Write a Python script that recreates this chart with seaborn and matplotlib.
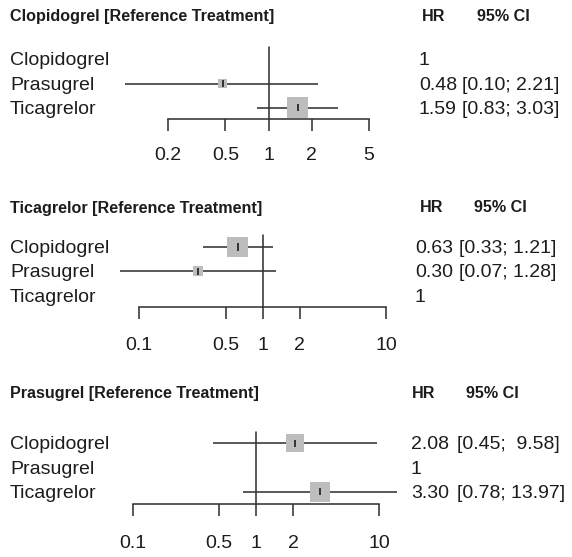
import numpy as np
import pandas as pd
import matplotlib
matplotlib.use("Agg")
import matplotlib.pyplot as plt
import seaborn as sns

# ---------------- data ----------------
treatments = ["Clopidogrel", "Prasugrel", "Ticagrelor"]
reference_names = ["Clopidogrel", "Ticagrelor", "Prasugrel"]

hr_vs_clop = [1.00, 0.48, 1.59]
lo_vs_clop = [np.nan, 0.10, 0.83]
hi_vs_clop = [np.nan, 2.21, 3.03]
wt_vs_clop = [np.nan, 0.18, 1.00]

hr_vs_tica = [0.63, 0.30, 1.00]
lo_vs_tica = [0.33, 0.07, np.nan]
hi_vs_tica = [1.21, 1.28, np.nan]
wt_vs_tica = [1.00, 0.23, np.nan]

hr_vs_pras = [2.08, 1.00, 3.30]
lo_vs_pras = [0.45, np.nan, 0.78]
hi_vs_pras = [9.58, np.nan, 13.97]
wt_vs_pras = [0.73, np.nan, 0.91]

ticks_clop = [0.2, 0.5, 1, 2, 5]
ticks_tica = [0.1, 0.5, 1, 2, 10]
ticks_pras = [0.1, 0.5, 1, 2, 10]
tick_labels_clop = ["0.2", "0.5", "1", "2", "5"]
tick_labels_tica = ["0.1", "0.5", "1", "2", "10"]
tick_labels_pras = ["0.1", "0.5", "1", "2", "10"]

panels_data = [
    (reference_names[0], hr_vs_clop, lo_vs_clop, hi_vs_clop, wt_vs_clop, ticks_clop, tick_labels_clop),
    (reference_names[1], hr_vs_tica, lo_vs_tica, hi_vs_tica, wt_vs_tica, ticks_tica, tick_labels_tica),
    (reference_names[2], hr_vs_pras, lo_vs_pras, hi_vs_pras, wt_vs_pras, ticks_pras, tick_labels_pras),
]

# ---------------- layout (pixels) ----------------
W, H = 572, 557
layouts = [
    dict(xl=168.3, xr=369.0, rows=(59.5, 83.5, 107.5), axis=119.0, top=46.7,
         title_y=17.0, hr_x=419, ci_x=462, hdr_hr=422, hdr_ci=477, tl_y=156),
    dict(xl=139.3, xr=386.0, rows=(247.0, 271.3, 295.5), axis=307.0, top=234.7,
         title_y=208.5, hr_x=415, ci_x=459, hdr_hr=420, hdr_ci=474, tl_y=346),
    dict(xl=132.7, xr=379.3, rows=(443.3, 467.5, 491.7), axis=504.0, top=431.7,
         title_y=393.5, hr_x=411, ci_x=457, hdr_hr=412, hdr_ci=466, tl_y=543),
]

sns.set_theme(style="white")
plt.rcParams["font.family"] = ["Liberation Sans", "DejaVu Sans"]

TXT = "#1c1c1c"
LINE = "#333333"
BOX = "#bdbdbd"
PX2PT = 72.0 / 100.0
TICKLEN_PX = 11.7
MAX_BOX_PX = 21.0

fig = plt.figure(figsize=(W / 100, H / 100), dpi=100)
fig.patch.set_facecolor("white")


def fx(px):
    return px / W


def fy(py):
    return 1 - py / H


for (ref, hr, lo, hi, wt, ticks, tlabels), L in zip(panels_data, layouts):
    rows = L["rows"]
    sp = (rows[2] - rows[0]) / 2.0
    ax = fig.add_axes([fx(L["xl"]), fy(L["axis"]), (L["xr"] - L["xl"]) / W,
                       (L["axis"] - L["top"]) / H])
    ax.set_facecolor("none")
    ax.set_xscale("log")
    ax.set_xlim(ticks[0], ticks[-1])
    ax.set_ylim((L["axis"] - rows[0]) / sp, (L["top"] - rows[0]) / sp)

    df = pd.DataFrame({"treat": treatments, "hr": hr, "lo": lo, "hi": hi, "wt": wt,
                       "row": np.arange(len(treatments), dtype=float)})
    est = df.dropna(subset=["lo"]).copy()
    # box area proportional to weight
    est["area"] = ((MAX_BOX_PX * np.sqrt(est["wt"])) * PX2PT) ** 2
    est["area"] = est["area"].round(3)

    # reference line at HR = 1
    ax.axvline(1, 0, 1, color=LINE, lw=1.15, zorder=1, clip_on=False)

    # confidence intervals
    ax.hlines(est["row"], est["lo"], est["hi"], color=LINE, lw=1.15, zorder=2, clip_on=False)

    # boxes
    sns.scatterplot(data=est, x="hr", y="row", size="area",
                    sizes={a: a for a in est["area"]}, marker="s", color=BOX,
                    linewidth=0, legend=False, ax=ax, zorder=3, clip_on=False)
    # point estimate tick
    ax.vlines(est["hr"], est["row"] - 0.15, est["row"] + 0.15, color=LINE, lw=1.4, zorder=4)

    ax.set_xlabel("")
    ax.set_ylabel("")
    ax.set_yticks([])
    ax.set_xticks(ticks)
    ax.set_xticklabels(tlabels)
    ax.xaxis.set_minor_locator(matplotlib.ticker.NullLocator())
    for s in ["top", "left", "right"]:
        ax.spines[s].set_visible(False)
    ax.spines["bottom"].set_color(LINE)
    ax.spines["bottom"].set_linewidth(1.15)
    pad_pt = (L["tl_y"] - L["axis"] - TICKLEN_PX) * PX2PT
    ax.tick_params(axis="x", direction="out", length=TICKLEN_PX * PX2PT, width=1.15,
                   color=LINE, labelsize=14, labelcolor=TXT, pad=pad_pt, bottom=True)
    for lab in ax.get_xticklabels():
        lab.set_va("center")

    # title and headers
    fig.text(fx(10), fy(L["title_y"]), f"{ref} [Reference Treatment]", fontsize=11.6,
             fontweight="bold", color=TXT, ha="left", va="center")
    fig.text(fx(L["hdr_hr"]), fy(L["title_y"] - 0.5), "HR", fontsize=11.6,
             fontweight="bold", color=TXT, ha="left", va="center")
    fig.text(fx(L["hdr_ci"]), fy(L["title_y"] - 0.5), "95% CI", fontsize=11.6,
             fontweight="bold", color=TXT, ha="left", va="center")

    # row labels & numbers
    width = max(len(f"{v:.2f}") for v in df["hi"].dropna())
    for i, r in df.iterrows():
        yy = fy(rows[i] + 1.5)
        fig.text(fx(10), yy, r["treat"], fontsize=14, color=TXT, ha="left", va="center")
        if np.isnan(r["lo"]):
            fig.text(fx(L["hr_x"]), yy, "1", fontsize=14, color=TXT, ha="left", va="center")
        else:
            fig.text(fx(L["hr_x"]), yy, f"{r['hr']:.2f}", fontsize=14, color=TXT,
                     ha="left", va="center")
            hi_s = f"{r['hi']:.2f}"
            pad = "  " if len(hi_s) < width else " "
            ci = f"[{r['lo']:.2f};{pad}{hi_s}]"
            fig.text(fx(L["ci_x"]), yy, ci, fontsize=14, color=TXT, ha="left", va="center")

fig.savefig("out.png", dpi=100, facecolor="white")
